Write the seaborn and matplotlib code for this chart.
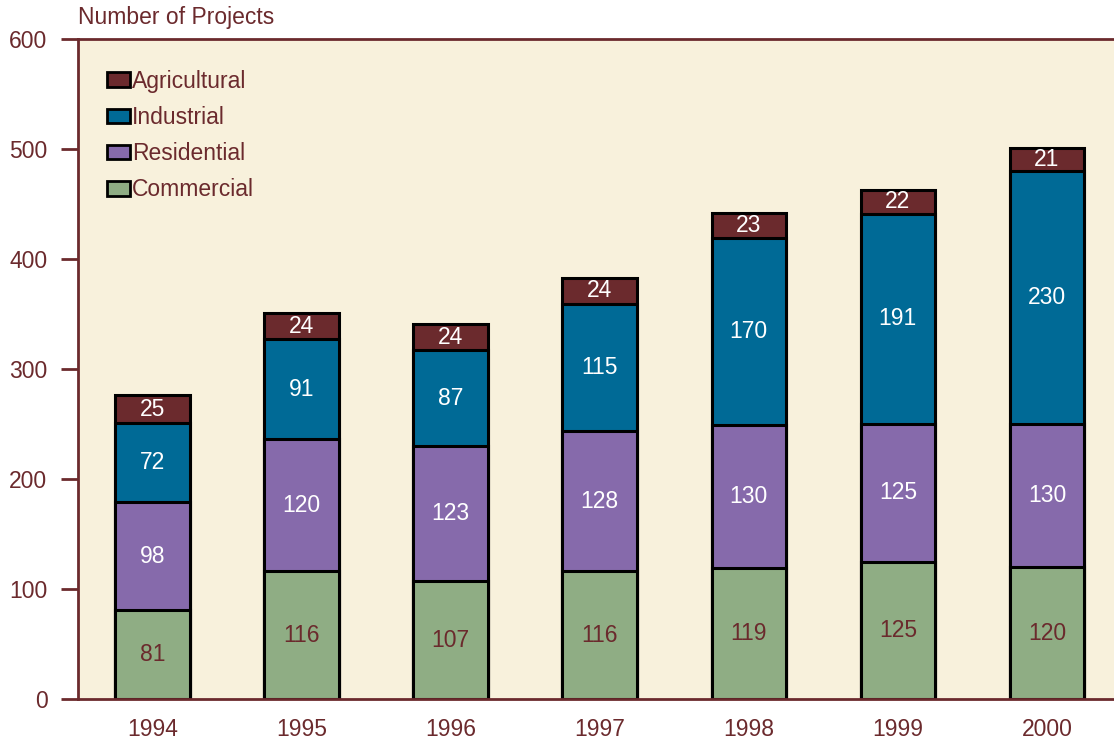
import numpy as np
import pandas as pd
import matplotlib
matplotlib.use("Agg")
import matplotlib.pyplot as plt
from matplotlib.patches import Patch
import seaborn as sns

# data
YEARS = ["1994", "1995", "1996", "1997", "1998", "1999", "2000"]
COMMERCIAL = [81, 116, 107, 116, 119, 125, 120]
RESIDENTIAL = [98, 120, 123, 128, 130, 125, 130]
INDUSTRIAL = [72, 91, 87, 115, 170, 191, 230]
AGRICULTURAL = [25, 24, 24, 24, 23, 22, 21]

SERIES = ["Commercial", "Residential", "Industrial", "Agricultural"]
COLORS = {
    "Commercial": "#8FAD84",
    "Residential": "#866AAB",
    "Industrial": "#006A96",
    "Agricultural": "#6B2A2D",
}
LABEL_COLORS = {
    "Commercial": "#6B2A2D",
    "Residential": "white",
    "Industrial": "white",
    "Agricultural": "white",
}
MAROON = "#6B2A2D"
BG = "#F8F1DC"
FS = 16.5

sns.set_theme(style="white")
plt.rcParams["font.family"] = ["Liberation Sans", "DejaVu Sans"]

df = pd.DataFrame({
    "year": YEARS,
    "Commercial": COMMERCIAL,
    "Residential": RESIDENTIAL,
    "Industrial": INDUSTRIAL,
    "Agricultural": AGRICULTURAL,
})
cum = df[SERIES].cumsum(axis=1)
bottoms = cum - df[SERIES]

fig = plt.figure(figsize=(11.14, 7.4), dpi=100)
ax = fig.add_axes([0.070, 0.0554, 0.930, 0.8918])
ax.set_facecolor(BG)

# draw cumulative totals from the top down so lower layers cover upper ones
for name in SERIES[::-1]:
    sns.barplot(x=df["year"], y=cum[name], color=COLORS[name], width=0.5,
                edgecolor="black", linewidth=2.2, saturation=1, ax=ax)

# value labels in the middle of each segment
for name in SERIES:
    for i, (b, v) in enumerate(zip(bottoms[name], df[name])):
        ax.text(i, b + v / 2, str(v), ha="center", va="center",
                fontsize=FS, color=LABEL_COLORS[name])

ax.set_xlim(-0.5, 6.45)
ax.set_ylim(0, 600)
ax.set_yticks(range(0, 601, 100))
ax.set_xlabel("")
ax.set_ylabel("")
ax.tick_params(axis="y", length=12, width=2, color=MAROON, labelsize=FS,
               labelcolor=MAROON, pad=10, left=True)
ax.tick_params(axis="x", length=0, labelsize=FS, labelcolor=MAROON, pad=14)

for side in ["left", "bottom", "top"]:
    ax.spines[side].set_color(MAROON)
    ax.spines[side].set_linewidth(2)
    ax.spines[side].set_visible(True)
ax.spines["right"].set_visible(False)

fig.text(0.070, 0.977, "Number of Projects", fontsize=FS, color=MAROON,
         ha="left", va="center")

handles = [Patch(facecolor=COLORS[n], edgecolor="black", linewidth=2, label=n)
           for n in SERIES[::-1]]
leg = ax.legend(handles=handles, loc="upper left", bbox_to_anchor=(0.008, 0.985),
                frameon=False, fontsize=FS, handlelength=1.0, handleheight=0.6,
                handletextpad=0.1, labelspacing=0.58)
for t in leg.get_texts():
    t.set_color(MAROON)

fig.savefig("out.png", dpi=100)
